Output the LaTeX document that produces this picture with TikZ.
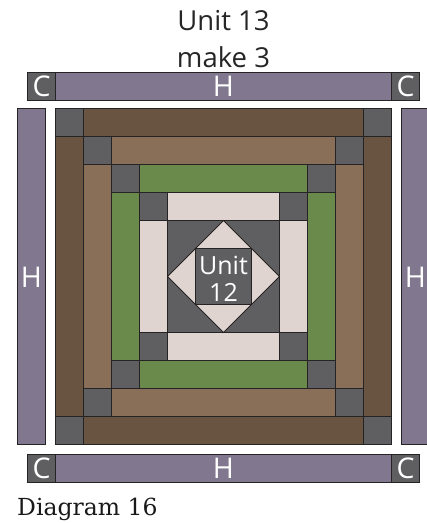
\documentclass[tikz,border=0pt]{standalone}
\usepackage{fontspec}
\setmainfont{Open Sans}
\newfontfamily\capfont{DejaVu Serif}
\definecolor{purp}{HTML}{817890}
\definecolor{gry}{HTML}{5F5F61}
\definecolor{dbrown}{HTML}{685440}
\definecolor{lbrown}{HTML}{8A6F58}
\definecolor{grn}{HTML}{6A8A4C}
\definecolor{pnk}{HTML}{E0D4D0}
\definecolor{edge}{HTML}{262324}
\begin{document}
\begin{tikzpicture}[x=1pt,y=-1pt,
  patch/.style={draw=edge,line width=0.9pt,line join=miter},
  lbl/.style={text=white,font=\fontsize{28.5}{28.5}\selectfont,inner sep=0pt,anchor=base},
  ttl/.style={text=black!85,font=\fontsize{27.5}{27.5}\selectfont,inner sep=0pt,anchor=base}]
\useasboundingbox (0,0) rectangle (427,523);
\begin{scope}
\clip (0,0) rectangle (427,523);
% top strip
\fill[patch,fill=gry] (27.5,72.5) rectangle (55.5,100.5);
\fill[patch,fill=purp] (55.5,72.5) rectangle (391.5,100.5);
\fill[patch,fill=gry] (391.5,72.5) rectangle (419.5,100.5);
% bottom strip
\fill[patch,fill=gry] (27.5,454) rectangle (55.5,482);
\fill[patch,fill=purp] (55.5,454) rectangle (391.5,482);
\fill[patch,fill=gry] (391.5,454) rectangle (419.5,482);
% side strips
\fill[patch,fill=purp] (17.5,108.5) rectangle (45.5,444.5);
\fill[patch,fill=purp] (401.5,108.5) rectangle (429.5,444.5);
% block
\begin{scope}[shift={(55.5,108.5)},x=28pt,y=-28pt]
\foreach \k/\c in {0/dbrown,1/lbrown,2/grn,3/pnk}{
  \pgfmathtruncatemacro\a{\k}
  \pgfmathtruncatemacro\b{12-\k}
  \pgfmathtruncatemacro\ap{\k+1}
  \pgfmathtruncatemacro\bm{11-\k}
  \fill[patch,fill=gry] (\a,\a) rectangle (\ap,\ap);
  \fill[patch,fill=gry] (\bm,\a) rectangle (\b,\ap);
  \fill[patch,fill=gry] (\a,\bm) rectangle (\ap,\b);
  \fill[patch,fill=gry] (\bm,\bm) rectangle (\b,\b);
  \fill[patch,fill=\c] (\ap,\a) rectangle (\bm,\ap);
  \fill[patch,fill=\c] (\ap,\bm) rectangle (\bm,\b);
  \fill[patch,fill=\c] (\a,\ap) rectangle (\ap,\bm);
  \fill[patch,fill=\c] (\bm,\ap) rectangle (\b,\bm);
}
\fill[patch,fill=gry] (4,4) rectangle (8,8);
\fill[patch,fill=pnk] (6,4) -- (8,6) -- (6,8) -- (4,6) -- cycle;
\fill[patch,fill=gry] (5,5) rectangle (7,7);
\end{scope}
\end{scope}
% labels
\node[ttl] (t1) at (223.5,30) {Unit 13};
\node[ttl] (t2) at (223.5,67) {make 3};
\node[lbl] (c1) at (41.5,96.5) {C};
\node[lbl] (h1) at (223.5,96.5) {H};
\node[lbl] (c2) at (405.5,96.5) {C};
\node[lbl] (c3) at (41.5,478) {C};
\node[lbl] (h2) at (223.5,478) {H};
\node[lbl] (c4) at (405.5,478) {C};
\node[lbl] (h3) at (31.5,287) {H};
\node[lbl] (h4) at (415.5,287) {H};
\node[lbl,font=\fontsize{25}{25}\selectfont] (u1) at (223.5,274) {Unit};
\node[lbl,font=\fontsize{25}{25}\selectfont] (u2) at (223.5,301.5) {12};
\node[inner sep=0pt,anchor=base west,text=black!90,font=\capfont\fontsize{23.5}{23.5}\selectfont] (d) at (17,515) {Diagram 16};
\end{tikzpicture}
\end{document}
